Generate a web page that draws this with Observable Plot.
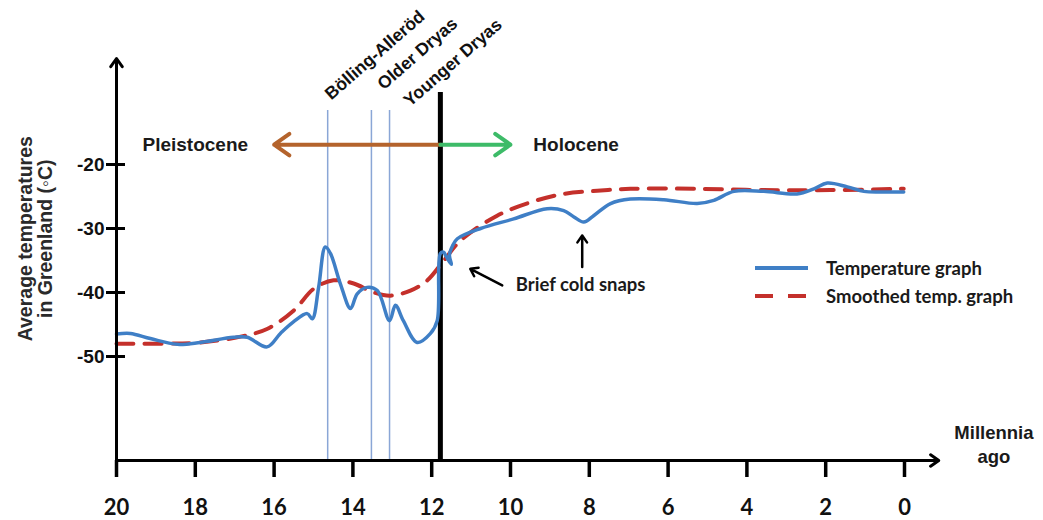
<!DOCTYPE html>
<html>
<head>
<meta charset="utf-8">
<script src="https://cdn.jsdelivr.net/npm/d3@7"></script>
<script src="https://cdn.jsdelivr.net/npm/@observablehq/plot@0.6"></script>
<style>
  body { margin: 0; background: #fff; }
  #wrap { position: relative; width: 1043px; height: 520px; }
  #legend { position: absolute; left: 750px; top: 254px; font-family: Lato, "Liberation Sans", sans-serif; font-weight: bold; font-size: 18.5px; color: #1a1a1a; }
  #legend .row { display: flex; align-items: center; height: 28px; }
  #legend svg { width: 72px; height: 28px; margin-right: 4px; }
</style>
</head>
<body>
<div id="wrap"></div>
<script>
// ---- data (thousands of years ago, °C) ----
const tempYears = [20, 19.65, 19.14, 18.46, 17.87, 17.03, 16.68, 16.18, 15.84, 15.51, 15.16, 15.03, 14.87, 14.7, 14.57, 14.32, 14.06, 13.89, 13.64, 13.38, 13.07, 12.92, 12.72, 12.37, 12.03, 11.86, 11.78, 11.7, 11.63, 11.5, 11.55, 11.47, 11.35, 10.76, 9.92, 9.07, 8.65, 8.39, 8.14, 7.89, 7.46, 6.96, 6.11, 5.26, 4.84, 4.33, 3.57, 2.73, 2.3, 1.96, 1.45, 1.03, 0.61, 0.02];
const tempValues = [-46.5, -46.4, -47.2, -48.1, -47.8, -47.0, -47.0, -48.5, -46.4, -44.6, -43.3, -44.1, -39.2, -32.9, -33.9, -38.6, -42.5, -40.2, -39.2, -39.7, -44.4, -42.0, -44.4, -47.8, -46.4, -44.4, -33.9, -33.7, -34.4, -35.6, -34.2, -32.7, -31.6, -30.0, -28.5, -26.9, -27.2, -28.2, -29.0, -28.0, -26.1, -25.4, -25.5, -26.1, -25.6, -24.2, -24.2, -24.6, -23.8, -22.9, -23.5, -24.2, -24.3, -24.3];
const smoothYears = [20, 18.72, 17.87, 16.85, 16.18, 15.5, 14.99, 14.49, 13.98, 13.47, 13.05, 12.54, 12.11, 11.69, 11.27, 10.34, 9.49, 8.65, 7.8, 6.96, 5.26, 3.57, 1.88, 0.02];
const smoothValues = [-48.0, -48.0, -47.8, -46.9, -45.7, -42.8, -39.4, -38.1, -38.6, -40.0, -40.5, -39.7, -38.1, -35.0, -31.9, -28.0, -25.9, -24.6, -24.1, -23.8, -23.8, -24.0, -24.0, -23.8];
const xTicks = [20, 18, 16, 14, 12, 10, 8, 6, 4, 2, 0];
const yTicks = [-20, -30, -40, -50];
const eventNames = ["Bölling-Alleröd", "Older Dryas", "Younger Dryas"];
const eventYears = [14.64, 13.53, 13.07];
const eventLabelYears = [14.55, 13.22, 12.55];
const eventLabelTemps = [-10.0, -8.44, -11.05];
const holoceneStart = 11.78;
const epochNames = ["Pleistocene", "Holocene"];
const epochArrowEnds = [16.0, 10.0];
const snapLabel = "Brief cold snaps";
const seriesNames = ["Temperature graph", "Smoothed temp. graph"];

// ---- tables ----
const temp = tempYears.map((x, i) => ({x, y: tempValues[i]}));
const smooth = smoothYears.map((x, i) => ({x, y: smoothValues[i]}));
const yMin = -66.25, yMax = -3.44;
const epochY = -16.9;
const events = eventNames.map((name, i) => ({name, x: eventYears[i], lx: eventLabelYears[i], ly: eventLabelTemps[i]}));

const ARIAL = '"Liberation Sans", Arial, sans-serif';
const CALIBRI = 'Lato, "Liberation Sans", sans-serif';

const chart = Plot.plot({
  width: 1043,
  height: 520,
  marginLeft: 116,
  marginRight: 139,
  marginTop: 58,
  marginBottom: 60,
  x: {domain: [20, 0]},
  y: {domain: [yMin, yMax]},
  style: {fontFamily: ARIAL, fontWeight: "bold", color: "#111", background: "white", overflow: "visible"},
  marks: [
    // event lines
    Plot.ruleX(events, {x: "x", y1: -11.56, y2: yMin, stroke: "#8aa6d6", strokeWidth: 1.5}),
    Plot.ruleX([holoceneStart], {x: d => d, y1: -8.75, y2: yMin, stroke: "#000", strokeWidth: 5}),
    // event labels
    Plot.text(events, {x: "lx", y: "ly", text: "name", rotate: -41, textAnchor: "start", lineAnchor: "bottom", fontSize: 17.5, fontFamily: ARIAL, fontWeight: "bold", fill: "#111"}),
    // epoch arrows
    Plot.arrow([0], {x1: () => holoceneStart, x2: () => epochArrowEnds[0], y1: () => epochY, y2: () => epochY, stroke: "#b4632c", strokeWidth: 4, headLength: 7, headAngle: 70}),
    Plot.arrow([0], {x1: () => holoceneStart, x2: () => epochArrowEnds[1], y1: () => epochY, y2: () => epochY, stroke: "#3dbb68", strokeWidth: 4, headLength: 7, headAngle: 70}),
    Plot.text([epochNames[0]], {x: () => 18.0, y: () => epochY, text: d => d, fontSize: 19, fontFamily: ARIAL, fontWeight: "bold", fill: "#1a1a1a"}),
    Plot.text([epochNames[1]], {x: () => 9.42, y: () => epochY, text: d => d, textAnchor: "start", fontSize: 19, fontFamily: ARIAL, fontWeight: "bold", fill: "#1a1a1a"}),
    // curves
    Plot.line(smooth, {x: "x", y: "y", stroke: "#c4302b", strokeWidth: 4, strokeDasharray: "17,11", curve: "catmull-rom"}),
    Plot.line(temp, {x: "x", y: "y", stroke: "#3f7fc6", strokeWidth: 3.5, curve: "catmull-rom"}),
    // cold-snap annotations
    Plot.arrow([0], {x1: () => 10.21, y1: () => -38.9, x2: () => 11.02, y2: () => -36.3, stroke: "#000", strokeWidth: 2.5, headLength: 5, headAngle: 70}),
    Plot.arrow([0], {x1: () => 8.18, y1: () => -36.0, x2: () => 8.18, y2: () => -31.1, stroke: "#000", strokeWidth: 2.5, headLength: 5, headAngle: 70}),
    Plot.text([snapLabel], {x: () => 8.22, y: () => -38.9, text: d => d, fontSize: 18.5, fontFamily: CALIBRI, fontWeight: "bold", fill: "#1a1a1a"}),
    // axes
    Plot.arrow([0], {x1: () => 20, y1: () => yMin, x2: () => 20, y2: () => yMax, stroke: "#000", strokeWidth: 3, headLength: 5, headAngle: 70}),
    Plot.arrow([0], {x1: () => 20, y1: () => yMin, x2: () => -0.87, y2: () => yMin, stroke: "#000", strokeWidth: 3, headLength: 5, headAngle: 70}),
    Plot.axisY({ticks: yTicks, tickSize: 19, dx: 9, tickPadding: 2, tickFormat: d => String(d), strokeWidth: 3, stroke: "#000", fontSize: 19, fontFamily: ARIAL, fontWeight: "bold", fill: "#111", label: null}),
    Plot.axisX({ticks: xTicks, tickSize: 17, tickPadding: 22, tickFormat: d => String(d), strokeWidth: 3.5, stroke: "#000", fontSize: 22, fontFamily: CALIBRI, fontWeight: "bold", fill: "#111", label: null}),
    // axis titles
    Plot.text(["Average temperatures\nin Greenland (◦C)"], {frameAnchor: "left", y: () => -31.6, dx: -81, text: d => d, rotate: -90, textAnchor: "middle", fontSize: 19.5, lineHeight: 1.05, fontFamily: ARIAL, fontWeight: "bold", fill: "#2a2a2a"}),
    Plot.text(["Millennia\nago"], {x: () => -2.27, y: () => yMin, dy: -17, text: d => d, fontSize: 18.5, lineHeight: 1.3, fontFamily: ARIAL, fontWeight: "bold", fill: "#1a1a1a"})
  ]
});

const wrap = document.getElementById("wrap");
wrap.appendChild(chart);

// legend overlay
const legend = document.createElement("div");
legend.id = "legend";
const styles = [{stroke: "#3f7fc6", dash: null}, {stroke: "#c4302b", dash: "18,15"}];
seriesNames.forEach((name, i) => {
  const row = document.createElement("div");
  row.className = "row";
  const dash = styles[i].dash ? ` stroke-dasharray="${styles[i].dash}"` : "";
  row.innerHTML = `<svg viewBox="0 0 72 28"><line x1="5" x2="58" y1="14" y2="14" stroke="${styles[i].stroke}" stroke-width="4"${dash}/></svg><span>${name}</span>`;
  legend.appendChild(row);
});
wrap.appendChild(legend);
</script>
</body>
</html>
